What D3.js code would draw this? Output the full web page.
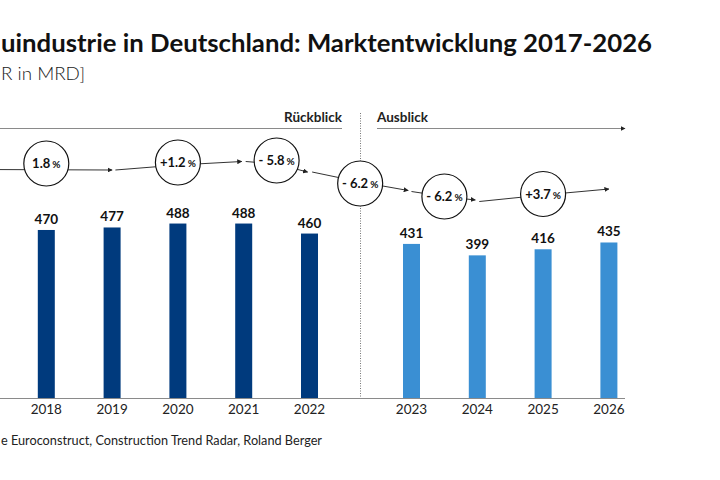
<!DOCTYPE html>
<html>
<head>
<meta charset="utf-8">
<script src="https://cdn.jsdelivr.net/npm/d3@7"></script>
<style>
  body { margin: 0; background: #fff; }
  svg { display: block; font-family: Lato, "Noto Sans", sans-serif; }
</style>
</head>
<body>
<div id="graph"></div>
<script>
// data
var years = [2018, 2019, 2020, 2021, 2022, 2023, 2024, 2025, 2026];
var values = [470, 477, 488, 488, 460, 431, 399, 416, 435];
var forecast = [false, false, false, false, false, true, true, true, true];
var growthLabels = ["1.8", "+1.2", "-5.8", "-6.2", "-6.2", "+3.7"];

const fullWidth = 720;
const fullHeight = 480;
const baseY = 398;

// slot position of each year (2018 = slot 1, forecast years shifted to leave room for the divider)
var gapSlots = 0.55;
var slotOf = function (i) { return i + 1 + (forecast[i] ? gapSlots : 0); };

var xScale = d3.scaleLinear()
	.domain([0, 9.55])
	.range([-19.5, 608.9]);

var yScale = d3.scaleLinear()
	.domain([0, 500])
	.range([baseY, baseY - 178.75]);

var svg = d3.select("#graph")
	.append("svg")
	.attr("width", fullWidth)
	.attr("height", fullHeight);

var defs = svg.append("defs");
defs.append("marker")
	.attr("id", "arrow")
	.attr("viewBox", "0 0 10 10")
	.attr("refX", 9)
	.attr("refY", 5)
	.attr("markerWidth", 5)
	.attr("markerHeight", 5)
	.attr("markerUnits", "userSpaceOnUse")
	.attr("orient", "auto")
	.append("path")
	.attr("d", "M0,0L10,5L0,10Z")
	.attr("fill", "#222");

// title, unit (the reference is cropped on the left)
svg.append("text")
	.attr("x", 1)
	.attr("y", 52)
	.attr("font-size", 24)
	.attr("font-weight", 700)
	.attr("fill", "#111")
	.attr("textLength", 651)
	.attr("lengthAdjust", "spacingAndGlyphs")
	.text("uindustrie in Deutschland: Marktentwicklung 2017-2026");

svg.append("text")
	.attr("x", 1)
	.attr("y", 80)
	.attr("font-size", 18)
	.attr("font-weight", 300)
	.attr("fill", "#222")
	.attr("textLength", 84)
	.attr("lengthAdjust", "spacingAndGlyphs")
	.text("R in MRD]");

// section headers
svg.append("text")
	.attr("x", 342)
	.attr("y", 122)
	.attr("text-anchor", "end")
	.attr("font-size", 13.5)
	.attr("font-weight", 700)
	.attr("fill", "#222")
	.text("Rückblick");

svg.append("line")
	.attr("x1", 0).attr("x2", 342)
	.attr("y1", 128.5).attr("y2", 128.5)
	.attr("stroke", "#8a8a8a")
	.attr("stroke-width", 1.2);

svg.append("text")
	.attr("x", 377)
	.attr("y", 122)
	.attr("font-size", 13.5)
	.attr("font-weight", 700)
	.attr("fill", "#222")
	.text("Ausblick");

svg.append("line")
	.attr("x1", 377).attr("x2", 625)
	.attr("y1", 128.5).attr("y2", 128.5)
	.attr("stroke", "#8a8a8a")
	.attr("stroke-width", 1.2)
	.attr("marker-end", "url(#arrow)");

// divider between review and outlook
var divX = (xScale(slotOf(4)) + xScale(slotOf(5))) / 2;
svg.append("line")
	.attr("x1", divX).attr("x2", divX)
	.attr("y1", 113).attr("y2", baseY)
	.attr("stroke", "#777")
	.attr("stroke-width", 1)
	.attr("stroke-dasharray", "1,1.5");

// baseline
svg.append("line")
	.attr("x1", 0).attr("x2", 625)
	.attr("y1", baseY + 0.5).attr("y2", baseY + 0.5)
	.attr("stroke", "#8a8a8a")
	.attr("stroke-width", 1.2);

// bars
var barW = 17;
var rows = years.map(function (y, i) {
	return { year: y, value: values[i], forecast: forecast[i], slot: slotOf(i) };
});

svg.append("g").selectAll(".bar")
	.data(rows)
	.enter().append("rect")
	.attr("class", "bar")
	.attr("x", function (d) { return xScale(d.slot) - barW / 2; })
	.attr("y", function (d) { return yScale(d.value); })
	.attr("width", barW)
	.attr("height", function (d) { return yScale(0) - yScale(d.value); })
	.attr("fill", function (d) { return d.forecast ? "#3a8fd3" : "#003a7d"; });

svg.append("g").selectAll(".val")
	.data(rows)
	.enter().append("text")
	.attr("x", function (d) { return xScale(d.slot); })
	.attr("y", function (d) { return yScale(d.value) - 6; })
	.attr("text-anchor", "middle")
	.attr("font-size", 13.5)
	.attr("font-weight", 700)
	.attr("fill", "#111")
	.text(function (d) { return d.value; });

svg.append("g").selectAll(".yr")
	.data(rows)
	.enter().append("text")
	.attr("x", function (d) { return xScale(d.slot); })
	.attr("y", 414)
	.attr("text-anchor", "middle")
	.attr("font-size", 13.5)
	.attr("fill", "#222")
	.text(function (d) { return d.year; });

// growth trend: pieces of polyline in [slot, y], each ending with an arrow
var trendPieces = [
	[[0, 169.5], [2.0, 170]],
	[[2.05, 170], [3, 165], [3.97, 161.5]],
	[[4.03, 161.5], [4.5, 164], [4.97, 172]],
	[[5.04, 172], [5.77, 182], [6.5, 190.5]],
	[[6.55, 191.5], [7.05, 196.5], [7.52, 200]],
	[[7.58, 201.5], [8.55, 195], [9.55, 189]]
];
var circles = [
	{ slot: 1, y: 163.5 },
	{ slot: 3, y: 162.5 },
	{ slot: 4.5, y: 160.5 },
	{ slot: 5.77, y: 183.5 },
	{ slot: 7.05, y: 196.5 },
	{ slot: 8.55, y: 194 }
];

var line = d3.line()
	.x(function (p) { return xScale(p[0]); })
	.y(function (p) { return p[1]; });

svg.append("g").selectAll("path")
	.data(trendPieces)
	.enter().append("path")
	.attr("d", line)
	.attr("fill", "none")
	.attr("stroke", "#333")
	.attr("stroke-width", 1)
	.attr("marker-end", "url(#arrow)");

var bubbles = svg.append("g").selectAll("g")
	.data(circles)
	.enter().append("g")
	.attr("transform", function (d) { return "translate(" + xScale(d.slot) + "," + d.y + ")"; });

bubbles.append("circle")
	.attr("r", 22.5)
	.attr("fill", "#fff")
	.attr("stroke", "#111")
	.attr("stroke-width", 1.2);

var lbl = bubbles.append("text")
	.attr("text-anchor", "middle")
	.attr("y", 4.5)
	.attr("font-weight", 700)
	.attr("fill", "#111");
lbl.append("tspan")
	.attr("font-size", 13)
	.text(function (d, i) { return growthLabels[i].replace("-", "- "); });
lbl.append("tspan")
	.attr("font-size", 10)
	.attr("dx", 2)
	.text("%");

// source (cropped on the left in the reference)
svg.append("text")
	.attr("x", 1)
	.attr("y", 445)
	.attr("font-size", 13)
	.attr("fill", "#222")
	.attr("textLength", 321)
	.attr("lengthAdjust", "spacingAndGlyphs")
	.text("e Euroconstruct, Construction Trend Radar, Roland Berger");
</script>
</body>
</html>
